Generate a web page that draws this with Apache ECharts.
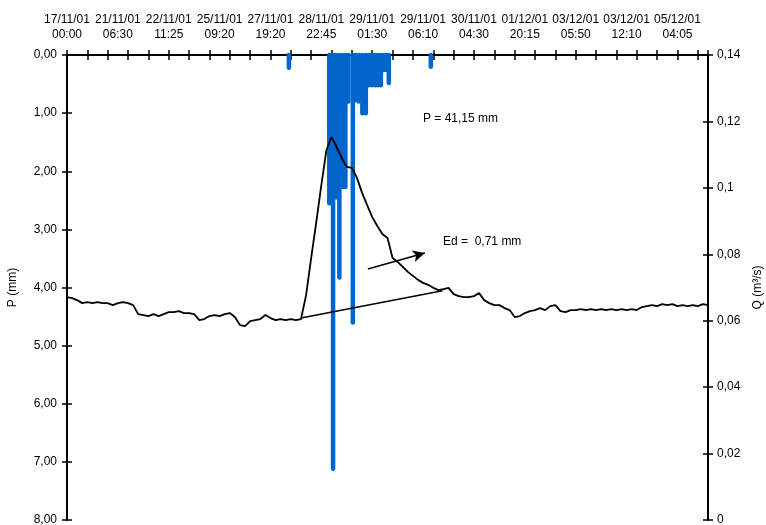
<!DOCTYPE html>
<html>
<head>
<meta charset="utf-8">
<script src="https://cdn.jsdelivr.net/npm/echarts@6/dist/echarts.min.js"></script>
<style>html,body{margin:0;padding:0;background:#fff}#c{width:766px;height:525px}</style>
</head>
<body>
<div id="c"></div>
<script>
// Top axis date/time labels (one every 5 axis units)
const topLabels = ["17/11/01\n00:00","21/11/01\n06:30","22/11/01\n11:25","25/11/01\n09:20","27/11/01\n19:20","28/11/01\n22:45","29/11/01\n01:30","29/11/01\n06:10","30/11/01\n04:30","01/12/01\n20:15","03/12/01\n05:50","03/12/01\n12:10","05/12/01\n04:05"];
const rightLabels = ["0","0,02","0,04","0,06","0,08","0,1","0,12","0,14"];
// Discharge Q (m3/s), sampled every qStep axis units from 0
const qStep = 0.5;
const qValues = [
0.0671,0.0668,0.0662,0.0653,0.0656,0.0653,0.0656,0.0653,0.0653,0.0647,
0.0653,0.0656,0.0653,0.0647,0.0620,0.0617,0.0614,0.0620,0.0614,0.0620,
0.0626,0.0626,0.0629,0.0623,0.0623,0.0620,0.0602,0.0605,0.0614,0.0617,
0.0614,0.0620,0.0623,0.0611,0.0587,0.0584,0.0599,0.0602,0.0605,0.0617,
0.0608,0.0602,0.0605,0.0602,0.0605,0.0602,0.0605,0.0677,0.0789,0.0897,
0.1009,0.1114,0.1153,0.1123,0.1090,0.1063,0.1060,0.1030,0.0985,0.0948,
0.0912,0.0885,0.0861,0.0849,0.0789,0.0777,0.0762,0.0747,0.0735,0.0723,
0.0714,0.0708,0.0699,0.0692,0.0695,0.0699,0.0680,0.0674,0.0671,0.0671,
0.0674,0.0683,0.0662,0.0653,0.0647,0.0647,0.0638,0.0632,0.0611,0.0614,
0.0623,0.0629,0.0632,0.0638,0.0632,0.0644,0.0647,0.0629,0.0626,0.0632,
0.0632,0.0635,0.0632,0.0635,0.0632,0.0635,0.0632,0.0635,0.0632,0.0635,
0.0632,0.0635,0.0632,0.0641,0.0644,0.0647,0.0644,0.0650,0.0647,0.0650,
0.0644,0.0647,0.0644,0.0647,0.0644,0.0650,0.0647];
// Rainfall P (mm): [axis position, depth]
const pBars = [
[21.81,0.22],[25.78,2.55],[26.00,2.55],[26.15,7.12],[26.42,2.45],[26.77,3.83],
[27.06,2.27],[27.36,2.27],[27.65,0.80],[28.09,4.60],[28.39,0.78],[28.68,0.80],
[29.03,1.00],[29.37,1.00],[29.67,0.52],[29.96,0.52],[30.26,0.52],[30.55,0.52],
[30.85,0.52],[31.14,0.26],[31.39,0.26],[31.63,0.48],[35.76,0.20]];
// Baseflow separation line and arrow (axis units, Q)
const sepLine = [[23.0,0.0608],[36.9,0.0690]];
const arrowLine = [[29.57,0.0756],[35.17,0.0804]];

const FONT = 'Liberation Sans, Arial, sans-serif';
const chart = echarts.init(document.getElementById('c'), null, {renderer:'canvas'});
const axBase = {type:'value', min:0, max:63, position:'top', splitLine:{show:false}};
const yLeft = {type:'value', min:0, max:8, interval:1, inverse:true, position:'left', splitLine:{show:false}};
const yRight = {type:'value', min:0, max:0.14, interval:0.02, position:'right', splitLine:{show:false}};
const lineOn = {show:true, onZero:false, lineStyle:{color:'#000', width:2}};
const lineOff = {show:false, onZero:false};
chart.setOption({
  animation:false,
  backgroundColor:'#fff',
  grid:{left:67, right:58, top:55, bottom:5, containLabel:false, outerBoundsMode:'none'},
  xAxis:[
    Object.assign({}, axBase, {interval:2, axisLine:lineOn,
      axisTick:{show:true, inside:true, length:5, lineStyle:{color:'#000', width:1.5}}, axisLabel:{show:false}}),
    Object.assign({}, axBase, {interval:2, axisLine:lineOff,
      axisTick:{show:true, inside:false, length:5, lineStyle:{color:'#000', width:1.5}}, axisLabel:{show:false}}),
    Object.assign({}, axBase, {interval:5, axisLine:lineOff, axisTick:{show:false},
      axisLabel:{show:true, margin:13, color:'#000', fontFamily:FONT, fontSize:12, lineHeight:15,
        showMaxLabel:false,
        formatter:function(v){const k=Math.round(v/5); return (Math.abs(v-5*k)<1e-6 && topLabels[k])?topLabels[k]:'';}}})
  ],
  yAxis:[
    Object.assign({}, yLeft, {axisLine:lineOn,
      axisTick:{show:true, inside:false, length:5, lineStyle:{color:'#000', width:1.5}},
      axisLabel:{show:true, margin:10, color:'#000', fontFamily:FONT, fontSize:12,
        formatter:function(v){return v.toFixed(2).replace('.',',');}},
      name:'P (mm)', nameLocation:'middle', nameRotate:90, nameGap:48,
      nameTextStyle:{color:'#000', fontFamily:FONT, fontSize:12}}),
    Object.assign({}, yLeft, {axisLine:lineOff,
      axisTick:{show:true, inside:true, length:5, lineStyle:{color:'#000', width:1.5}}, axisLabel:{show:false}}),
    Object.assign({}, yRight, {axisLine:lineOn,
      axisTick:{show:true, inside:false, length:5, lineStyle:{color:'#000', width:1.5}},
      axisLabel:{show:true, margin:9, color:'#000', fontFamily:FONT, fontSize:12,
        formatter:function(v){return rightLabels[Math.round(v/0.02)];}},
      name:'Q (m³/s)', nameLocation:'middle', nameRotate:90, nameGap:44,
      nameTextStyle:{color:'#000', fontFamily:FONT, fontSize:12}}),
    Object.assign({}, yRight, {axisLine:lineOff,
      axisTick:{show:true, inside:true, length:5, lineStyle:{color:'#000', width:1.5}}, axisLabel:{show:false}})
  ],
  series:[
    {type:'custom', name:'P', coordinateSystem:'cartesian2d', xAxisIndex:0, yAxisIndex:0, z:2, clip:false,
      encode:{x:0, y:1}, data:pBars,
      renderItem:function(params, api){
        const x = api.value(0), p = api.value(1);
        const a = api.coord([x,0]), b = api.coord([x,p]);
        return {type:'line', shape:{x1:a[0], y1:a[1], x2:b[0], y2:b[1]},
          style:{stroke:'#0066CC', lineWidth:4.5, lineCap:'round'}};
      }},
    {type:'line', name:'Q', xAxisIndex:0, yAxisIndex:2, z:5, showSymbol:false, symbol:'none',
      lineStyle:{color:'#000', width:1.8}, data:qValues.map(function(q,i){return [i*qStep,q];})},
    {type:'line', name:'sep', xAxisIndex:0, yAxisIndex:2, z:5, showSymbol:false, symbol:'none',
      lineStyle:{color:'#000', width:1.6}, data:sepLine,
      markLine:{silent:true, symbol:['none','arrow'], symbolSize:[9,12], label:{show:false},
        lineStyle:{color:'#000', width:1.6, type:'solid'},
        data:[[{coord:arrowLine[0]},{coord:arrowLine[1]}]]}}
  ],
  graphic:[
    {type:'text', left:423, top:113, style:{text:'P = 41,15 mm', fill:'#000', font:'12px '+FONT}},
    {type:'text', left:443, top:236, style:{text:'Ed =  0,71 mm', fill:'#000', font:'12px '+FONT}}
  ]
});
</script>
</body>
</html>
